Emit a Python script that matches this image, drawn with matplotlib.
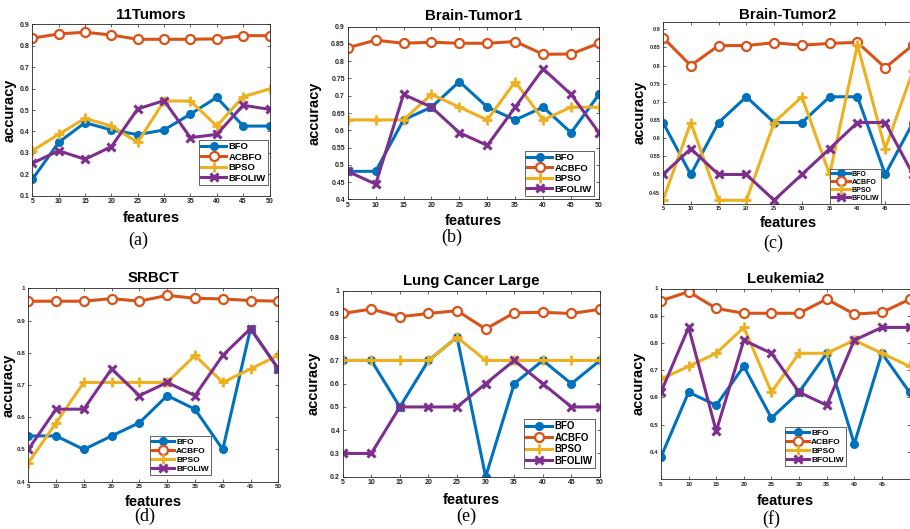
import numpy as np
import matplotlib
matplotlib.use("Agg")
import matplotlib.pyplot as plt

W, H = 910, 529
features = [5, 10, 15, 20, 25, 30, 35, 40, 45, 50]
series_names = ["BFO", "ACBFO", "BPSO", "BFOLIW"]

# (a) 11Tumors
t11_bfo = [0.176, 0.349, 0.441, 0.407, 0.385, 0.407, 0.481, 0.559, 0.425, 0.425]
t11_acbfo = [0.835, 0.855, 0.863, 0.850, 0.830, 0.830, 0.830, 0.832, 0.847, 0.847]
t11_bpso = [0.310, 0.386, 0.461, 0.425, 0.349, 0.542, 0.542, 0.425, 0.562, 0.598]
t11_bfoliw = [0.251, 0.310, 0.270, 0.329, 0.505, 0.544, 0.371, 0.386, 0.522, 0.503]

# (b) Brain-Tumor1
bt1_bfo = [0.481, 0.481, 0.630, 0.667, 0.741, 0.667, 0.630, 0.667, 0.593, 0.704]
bt1_acbfo = [0.839, 0.861, 0.852, 0.855, 0.852, 0.852, 0.857, 0.820, 0.821, 0.852]
bt1_bpso = [0.630, 0.630, 0.630, 0.704, 0.667, 0.630, 0.741, 0.630, 0.667, 0.667]
bt1_bfoliw = [0.481, 0.444, 0.704, 0.667, 0.593, 0.556, 0.667, 0.778, 0.704, 0.593]

# (c) Brain-Tumor2
bt2_bfo = [0.643, 0.500, 0.643, 0.714, 0.643, 0.643, 0.714, 0.714, 0.500, 0.643]
bt2_acbfo = [0.877, 0.800, 0.855, 0.855, 0.863, 0.856, 0.861, 0.864, 0.794, 0.857]
bt2_bpso = [0.429, 0.643, 0.429, 0.429, 0.643, 0.714, 0.500, 0.857, 0.571, 0.786]
bt2_bfoliw = [0.500, 0.571, 0.500, 0.500, 0.429, 0.500, 0.571, 0.643, 0.643, 0.500]

# (d) SRBCT
sr_bfo = [0.542, 0.542, 0.500, 0.542, 0.583, 0.667, 0.625, 0.500, 0.875, 0.750]
sr_acbfo = [0.960, 0.960, 0.960, 0.968, 0.960, 0.978, 0.969, 0.967, 0.962, 0.960]
sr_bpso = [0.458, 0.583, 0.708, 0.708, 0.708, 0.708, 0.792, 0.708, 0.750, 0.792]
sr_bfoliw = [0.500, 0.625, 0.625, 0.750, 0.667, 0.708, 0.667, 0.792, 0.875, 0.750]

# (e) Lung Cancer Large
lc_bfo = [0.7, 0.7, 0.5, 0.7, 0.8, 0.2, 0.6, 0.7, 0.6, 0.7]
lc_acbfo = [0.902, 0.921, 0.888, 0.902, 0.914, 0.835, 0.905, 0.907, 0.902, 0.920]
lc_bpso = [0.7, 0.7, 0.7, 0.7, 0.8, 0.7, 0.7, 0.7, 0.7, 0.7]
lc_bfoliw = [0.3, 0.3, 0.5, 0.5, 0.5, 0.6, 0.7, 0.6, 0.5, 0.5]

# (f) Leukemia2
lk_bfo = [0.381, 0.619, 0.571, 0.714, 0.524, 0.619, 0.762, 0.429, 0.762, 0.619]
lk_acbfo = [0.955, 0.988, 0.927, 0.909, 0.909, 0.909, 0.961, 0.906, 0.912, 0.960]
lk_bpso = [0.667, 0.714, 0.762, 0.857, 0.619, 0.762, 0.762, 0.810, 0.762, 0.714]
lk_bfoliw = [0.619, 0.857, 0.476, 0.810, 0.762, 0.619, 0.571, 0.810, 0.857, 0.857]

colors = {"BFO": "#0072BD", "ACBFO": "#D95319", "BPSO": "#EDB120", "BFOLIW": "#7E2F8E"}

panels = [
    dict(title="11Tumors", data=[t11_bfo, t11_acbfo, t11_bpso, t11_bfoliw], box=(32.3, 24.3, 269.5, 195.7),
         ylim=(0.1, 0.9), yticks=np.arange(0.1, 0.91, 0.1), tfs=5, title_y=15, xl_y=218, yl_x=10,
         cap="(a)", cap_xy=(138, 240), leg=(199, 140, 262, 188), lfs=6.8, cut=False),
    dict(title="Brain-Tumor1", data=[bt1_bfo, bt1_acbfo, bt1_bpso, bt1_bfoliw], box=(347.7, 26.7, 599, 199.3),
         ylim=(0.4, 0.9), yticks=np.arange(0.4, 0.91, 0.05), tfs=5, title_y=15.7, xl_y=221, yl_x=315,
         cap="(b)", cap_xy=(452, 237), leg=(525, 151, 598, 197), lfs=6.8, cut=False),
    dict(title="Brain-Tumor2", data=[bt2_bfo, bt2_acbfo, bt2_bpso, bt2_bfoliw], box=(663, 22, 913, 203.5),
         ylim=(0.42, 0.92), yticks=np.arange(0.45, 0.91, 0.05), tfs=4, title_y=15, xl_y=223, yl_x=640,
         cap="(c)", cap_xy=(773, 243), leg=(830, 169, 880, 204), lfs=5.0, cut=True),
    dict(title="SRBCT", data=[sr_bfo, sr_acbfo, sr_bpso, sr_bfoliw], box=(28.3, 288.3, 278.3, 481.7),
         ylim=(0.4, 1.0), yticks=np.arange(0.4, 1.01, 0.1), tfs=4.5, title_y=278, xl_y=501.7, yl_x=8.5,
         cap="(d)", cap_xy=(145, 516.7), leg=(150, 436, 205, 477), lfs=6.0, cut=False),
    dict(title="Lung Cancer Large", data=[lc_bfo, lc_acbfo, lc_bpso, lc_bfoliw], box=(342.7, 290.7, 600, 476.7),
         ylim=(0.2, 1.0), yticks=np.arange(0.2, 1.01, 0.1), tfs=5, title_y=280.7, xl_y=500, yl_x=314,
         cap="(e)", cap_xy=(466.7, 516), leg=(524, 419, 603, 471), lfs=7.0, cut=False),
    dict(title="Leukemia2", data=[lk_bfo, lk_acbfo, lk_bpso, lk_bfoliw], box=(661, 288.5, 909.5, 479),
         ylim=(0.3, 1.0), yticks=np.arange(0.4, 1.01, 0.1), tfs=4.5, title_y=279, xl_y=500.7, yl_x=639,
         cap="(f)", cap_xy=(771.7, 519), leg=(785, 427, 843, 473), lfs=6.0, cut=True),
]

def fmt(v):
    s = ("%.2f" % v).rstrip("0").rstrip(".")
    return s

plt.rcParams["font.family"] = ["Liberation Sans", "DejaVu Sans"]
fig = plt.figure(figsize=(W / 100, H / 100), dpi=100)
fig.patch.set_facecolor("white")

for p in panels:
    x0, y0, x1, y1 = p["box"]
    ax = fig.add_axes([x0 / W, 1 - y1 / H, (x1 - x0) / W, (y1 - y0) / H])
    bfo, acbfo, bpso, bfoliw = p["data"]
    ax.plot(features, bfo, color=colors["BFO"], lw=2.2, marker="o", ms=5.5, mfc=colors["BFO"], label="BFO")
    ax.plot(features, acbfo, color=colors["ACBFO"], lw=2.2, marker="o", ms=6.5, mfc="white", mew=1.6, label="ACBFO")
    ax.plot(features, bpso, color=colors["BPSO"], lw=2.2, marker="+", ms=7, mew=2.0, label="BPSO")
    ax.plot(features, bfoliw, color=colors["BFOLIW"], lw=2.2, marker="x", ms=5.5, mew=2.2, label="BFOLIW")
    ax.set_xlim(5, 50)
    ax.set_ylim(*p["ylim"])
    ax.set_xticks(features)
    xl = [str(f) for f in features]
    if p["cut"]:
        xl[-1] = ""
    ax.set_xticklabels(xl, fontsize=p["tfs"], fontweight="bold", color="#262626")
    ax.set_yticks(p["yticks"])
    ax.set_yticklabels([fmt(v) for v in p["yticks"]], fontsize=p["tfs"], fontweight="bold", color="#262626")
    ax.tick_params(direction="in", length=2.5, width=0.5, top=True, right=True, pad=2, colors="#262626")
    for s in ax.spines.values():
        s.set_linewidth(0.6)
        s.set_color("#262626")
    ax.set_title(p["title"], fontsize=10.8, fontweight="bold", y=1 - (p["title_y"] - y0) / (y1 - y0),
                 va="center", pad=0)
    ax.set_xlabel("features", fontsize=10.5, fontweight="bold", va="center")
    ax.xaxis.set_label_coords(0.5, 1 - (p["xl_y"] - y0) / (y1 - y0))
    ax.set_ylabel("accuracy", fontsize=10.5, fontweight="bold", va="center")
    ax.yaxis.set_label_coords((p["yl_x"] - x0) / (x1 - x0), 0.5)
    lx0, ly0, lx1, ly1 = p["leg"]
    leg = ax.legend(loc="upper left", bbox_to_anchor=(lx0 / W, 1 - ly0 / H), bbox_transform=fig.transFigure,
                    prop={"weight": "bold", "size": p["lfs"]}, frameon=True, fancybox=False,
                    edgecolor="#262626", framealpha=1, borderpad=0.25, labelspacing=0.15, handlelength=2.6,
                    handletextpad=0.3, borderaxespad=0, numpoints=1)
    leg.get_frame().set_linewidth(0.5)
    fig.text(p["cap_xy"][0] / W, 1 - p["cap_xy"][1] / H, p["cap"], fontsize=13,
             family=["Liberation Serif", "DejaVu Serif"], ha="center", va="center")

fig.savefig("out.png", dpi=100, facecolor="white")
